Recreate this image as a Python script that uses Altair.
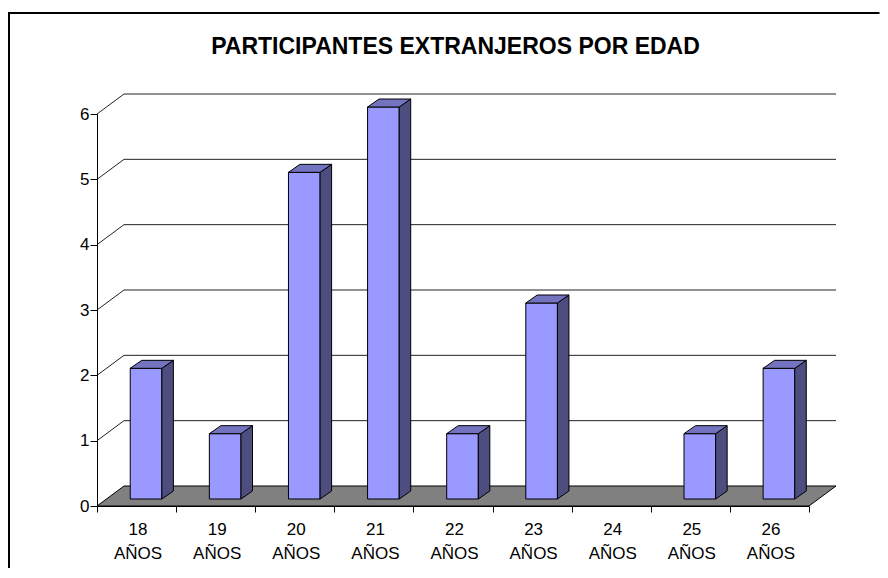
import altair as alt
import pandas as pd

# ---- data ----
ages = ["18", "19", "20", "21", "22", "23", "24", "25", "26"]
unit = "AÑOS"
counts = [2, 1, 5, 6, 1, 3, 0, 1, 2]
y_ticks = [0, 1, 2, 3, 4, 5, 6]
title_text = "PARTICIPANTES EXTRANJEROS POR EDAD"

# ---- layout constants (pixels) ----
W, H = 712, 392
NCAT = len(ages)
YMAX = max(y_ticks)
PX_X = W / NCAT
PX_Y = H / YMAX
WALL_DX, WALL_DY = 27, 20      # depth of back wall / floor
BAR_DX, BAR_DY = 9.5, 7        # shift of bar front face into depth
SIDE_DX, SIDE_DY = 11.5, 8     # bar depth
BAR_W = 0.4                    # bar width as fraction of category
FONT = "Liberation Sans"
PAD = {"left": 89, "top": 106, "right": 71, "bottom": 62}

bars = pd.DataFrame({
    "idx": list(range(NCAT)),
    "age": ages,
    "label": [f"{a} {unit}" for a in ages],
    "value": counts,
})
grid = pd.DataFrame({"v": y_ticks[1:]})
one = pd.DataFrame({"t": [title_text]})

xs = alt.Scale(domain=[0, NCAT], nice=False, zero=False)
ys = alt.Scale(domain=[0, YMAX], nice=False, zero=False)

x_axis = alt.Axis(values=list(range(NCAT + 1)), labels=False, tickSize=6,
                  grid=False, title=None, domainColor="black", tickColor="black",
                  domainWidth=1, tickWidth=1, zindex=1)
y_axis = alt.Axis(values=y_ticks, tickSize=7, labelPadding=1, grid=False, title=None,
                  domainColor="black", tickColor="black", labelColor="black",
                  labelFont=FONT, labelFontSize=17, domainWidth=1, tickWidth=1, zindex=1)


def X(f):
    return alt.X(f, scale=xs, axis=x_axis)


def Y(f):
    return alt.Y(f, scale=ys, axis=y_axis)


ddx = WALL_DX / PX_X
ddy = WALL_DY / PX_Y

# outer frame: only its left and top edges fall inside the picture
fl = (1 - PAD["left"]) / PX_X                       # left edge, in x-scale units
ft = YMAX + (PAD["top"] - 5) / PX_Y                 # top edge, in y-scale units
fr = NCAT + (PAD["right"] - 0.5) / PX_X             # stop at the canvas' right edge
fb = -300 / PX_Y
frame_left = alt.Chart(one).transform_calculate(
    a=f"{fl}", b0=f"{ft + 1 / PX_Y}", b1=f"{fb}"
).mark_rule(color="black", strokeWidth=2).encode(
    x=X("a:Q"), y=Y("b0:Q"), y2="b1:Q"
)
frame_top = alt.Chart(one).transform_calculate(
    a0=f"{fl - 1 / PX_X}", a1=f"{fr}", b=f"{ft}"
).mark_rule(color="black", strokeWidth=2).encode(
    x=X("a0:Q"), x2="a1:Q", y=Y("b:Q")
)

title = alt.Chart(one).mark_text(
    font=FONT, fontSize=23, fontWeight="bold", color="black", baseline="alphabetic", align="center"
).encode(x=alt.value(W / 2 + 2.5), y=alt.value(-60.5), text="t:N")

# floor
floor = alt.Chart(one).transform_calculate(k="[0, 1]").transform_flatten(["k"]).transform_calculate(
    fx0=f"datum.k * {ddx}", fx1=f"{NCAT} + datum.k * {ddx}", fy=f"datum.k * {ddy}"
).mark_area(orient="horizontal", fill="#808080", stroke="black", strokeWidth=1).encode(
    y=Y("fy:Q"), x=X("fx0:Q"), x2="fx1:Q",
)

# back wall gridlines
back = alt.Chart(grid).transform_calculate(
    gx0=f"{ddx}", gx1=f"{NCAT} + {ddx}", gy=f"datum.v + {ddy}"
).mark_rule(color="#222222", strokeWidth=1).encode(
    x=X("gx0:Q"), x2="gx1:Q", y=Y("gy:Q")
)
diag = alt.Chart(grid).transform_calculate(
    dx0="0", dx1=f"{ddx}", dy1=f"datum.v + {ddy}"
).mark_rule(color="#222222", strokeWidth=1).encode(
    x=X("dx0:Q"), x2="dx1:Q", y=Y("v:Q"), y2="dy1:Q"
)

left_off = 0.5 - BAR_W / 2
right_off = 0.5 + BAR_W / 2
fdx = BAR_DX / PX_X
fdy = BAR_DY / PX_Y

base = alt.Chart(bars).transform_filter("datum.value > 0")

front = base.transform_calculate(
    bx0=f"datum.idx + {left_off} + {fdx}",
    bx1=f"datum.idx + {right_off} + {fdx}",
    by0=f"{fdy}",
    by1=f"datum.value + {fdy}",
).mark_rect(fill="#9999FF", stroke="black", strokeWidth=1).encode(
    x=X("bx0:Q"), x2="bx1:Q", y=Y("by0:Q"), y2="by1:Q",
)

side = base.transform_calculate(k="[0, 1]").transform_flatten(["k"]).transform_calculate(
    sx=f"datum.idx + {right_off} + ({BAR_DX} + datum.k * {SIDE_DX}) / {PX_X}",
    sy0=f"({BAR_DY} + datum.k * {SIDE_DY}) / {PX_Y}",
    sy1=f"datum.value + ({BAR_DY} + datum.k * {SIDE_DY}) / {PX_Y}",
).mark_area(orient="vertical", fill="#4D4D80", stroke="black", strokeWidth=1).encode(
    x=X("sx:Q"), y=Y("sy0:Q"), y2="sy1:Q", detail="age:N",
)

top = base.transform_calculate(k="[0, 1]").transform_flatten(["k"]).transform_calculate(
    tx0=f"datum.idx + {left_off} + ({BAR_DX} + datum.k * {SIDE_DX}) / {PX_X}",
    tx1=f"datum.idx + {right_off} + ({BAR_DX} + datum.k * {SIDE_DX}) / {PX_X}",
    ty=f"datum.value + ({BAR_DY} + datum.k * {SIDE_DY}) / {PX_Y}",
).mark_area(orient="horizontal", fill="#7373BF", stroke="black", strokeWidth=1).encode(
    y=Y("ty:Q"), x=X("tx0:Q"), x2="tx1:Q", detail="age:N",
)

labels = alt.Chart(bars).transform_calculate(cx="datum.idx + 0.5").mark_text(
    font=FONT, fontSize=17, color="black", baseline="alphabetic", align="center",
    lineBreak=" ", lineHeight=24, dx=1.5
).encode(
    x=X("cx:Q"), y=alt.value(H + 28.5), text="label:N"
)

chart = alt.layer(frame_left, frame_top, title, floor, back, diag, front, side, top, labels).properties(
    width=W, height=H,
    autosize=alt.AutoSizeParams(type="none"),
    padding=PAD,
    background="white",
).configure_view(stroke=None)

chart.save("out.html", embed_options={"renderer": "svg", "actions": False})
